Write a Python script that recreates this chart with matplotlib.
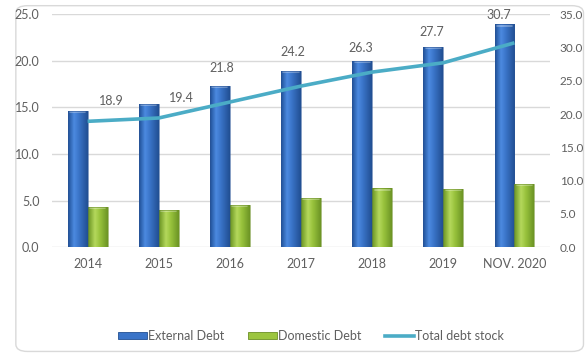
import matplotlib.pyplot as plt
import numpy as np
from matplotlib.colors import LinearSegmentedColormap
from matplotlib.patches import FancyBboxPatch, Patch
from matplotlib.lines import Line2D

plt.rcParams["font.family"] = ["Lato", "DejaVu Sans"]

years = ["2014", "2015", "2016", "2017", "2018", "2019", "NOV. 2020"]
external_debt = [14.6, 15.4, 17.3, 18.9, 20.0, 21.5, 23.9]
domestic_debt = [4.3, 4.0, 4.5, 5.3, 6.3, 6.2, 6.8]
total_debt = [18.9, 19.4, 21.8, 24.2, 26.3, 27.7, 30.7]

# hand-placed label offsets (pixels) so labels clear the bars
label_offsets = [(24, 20), (23, 20), (-8, 34), (-8, 34), (-11, 24), (-12, 31), (-16, 28)]

GREY = "#5f5f5f"
GRID = "#d9d9d9"
LINE = "#4bacc6"

blue_cmap = LinearSegmentedColormap.from_list(
    "blue", [(0, "#1f4f96"), (0.3, "#4c8ae0"), (0.55, "#3a74c8"), (1, "#214f92")])
green_cmap = LinearSegmentedColormap.from_list(
    "green", [(0, "#6a9322"), (0.35, "#b4d85c"), (0.6, "#98c23c"), (1, "#6c9424")])


def shade_bars(ax, bars, cmap):
    grad = np.linspace(0, 1, 64).reshape(1, -1)
    for b in bars:
        x0, w, h = b.get_x(), b.get_width(), b.get_height()
        im = ax.imshow(grad, cmap=cmap, aspect="auto", zorder=2,
                       extent=[x0, x0 + w, 0, h], origin="lower")
        im.set_clip_path(b)
        # lighter cap at the top of each column
        ax.plot([x0 + w * 0.12, x0 + w * 0.88], [h - 0.12, h - 0.12],
                color="white", alpha=0.35, lw=1.2, zorder=3, solid_capstyle="round")


fig = plt.figure(figsize=(5.87, 3.55), dpi=100)
fig.patches.append(FancyBboxPatch(
    (0.027, 0.01), 0.967, 0.974, boxstyle="round,pad=0,rounding_size=0.02",
    transform=fig.transFigure, facecolor="white", edgecolor=GRID, lw=1.0, zorder=-1))

ax = fig.add_axes([0.0886, 0.304, 0.8484, 0.656])
ax.set_facecolor("none")
x = np.arange(len(years))
w = 0.28

b1 = ax.bar(x - w / 2, external_debt, w, color="none", edgecolor="#2a5597", lw=0.4, zorder=4)
b2 = ax.bar(x + w / 2, domestic_debt, w, color="none", edgecolor="#6b8f25", lw=0.4, zorder=4)
shade_bars(ax, b1, blue_cmap)
shade_bars(ax, b2, green_cmap)

ax.set_xlim(-0.5, len(years) - 0.5)
ax.set_ylim(0, 25)
ax.set_yticks(np.arange(0, 26, 5))
ax.set_yticklabels([f"{v:.1f}" for v in np.arange(0, 26, 5)])
ax.set_xticks(x)
ax.set_xticklabels(years)
ax.yaxis.grid(True, color=GRID, lw=1.0, zorder=0)
ax.set_axisbelow(True)
ax.tick_params(length=0, colors=GREY, labelsize=9)
ax.tick_params(axis="x", pad=8)
ax.tick_params(axis="y", pad=9)
for s in ax.spines.values():
    s.set_visible(False)

ax2 = ax.twinx()
ax2.plot(x, total_debt, color=LINE, lw=2.6, zorder=5, solid_capstyle="butt")
ax2.set_ylim(0, 35)
ax2.set_yticks(np.arange(0, 36, 5))
ax2.set_yticklabels([f"{v:.1f}" for v in np.arange(0, 36, 5)])
ax2.tick_params(length=0, colors=GREY, labelsize=8.5, pad=7)
for s in ax2.spines.values():
    s.set_visible(False)

for xi, v, (dx, dy) in zip(x, total_debt, label_offsets):
    ax2.annotate(f"{v:.1f}", (xi, v), xytext=(dx, dy), textcoords="offset pixels",
                 ha="center", va="center", color=GREY, fontsize=9)

handles = [
    Patch(facecolor="#3a74c8", edgecolor="#214f92", lw=0.6),
    Patch(facecolor="#9cc540", edgecolor="#6b8f25", lw=0.6),
    Line2D([], [], color=LINE, lw=2.6),
]
fig.legend(handles, ["External Debt", "Domestic Debt", "Total debt stock"],
           loc="center", bbox_to_anchor=(0.53, 0.053), ncol=3, frameon=False,
           fontsize=9, labelcolor=GREY, handlelength=2.3, handleheight=0.45,
           handletextpad=0.1, columnspacing=1.9)

fig.savefig("out.png", dpi=100)
